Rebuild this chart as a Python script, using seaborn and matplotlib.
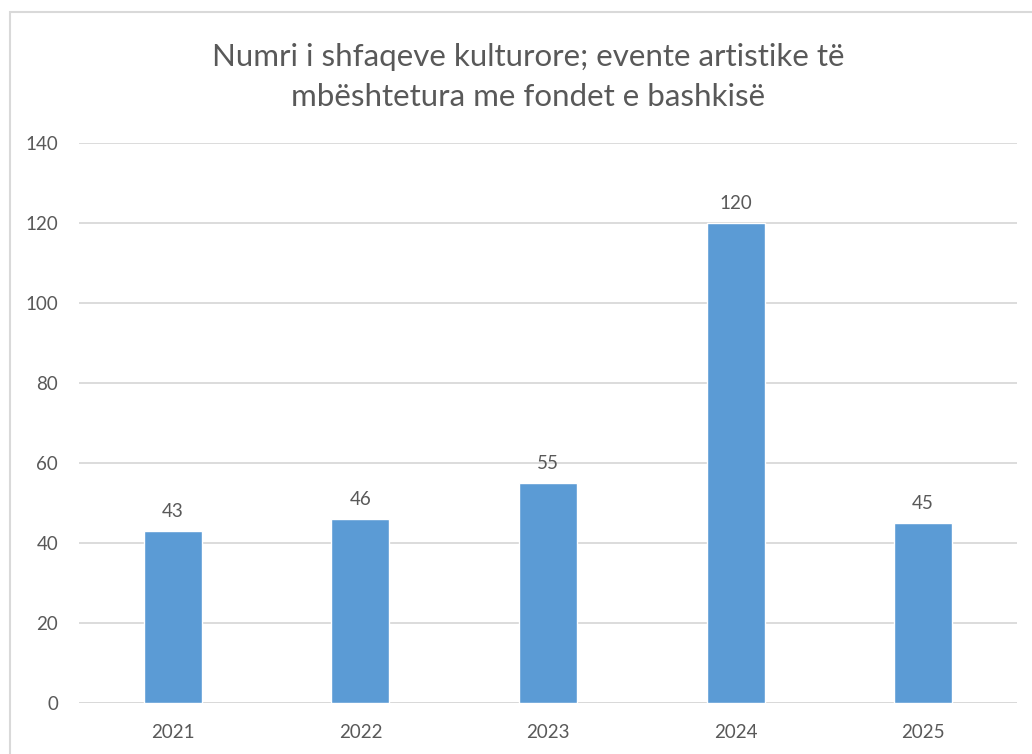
import matplotlib
matplotlib.use("Agg")
import matplotlib.pyplot as plt
import seaborn as sns
import pandas as pd
from matplotlib.patches import Rectangle

years = ["2021", "2022", "2023", "2024", "2025"]
values = [43, 46, 55, 120, 45]
yticks = [0, 20, 40, 60, 80, 100, 120, 140]
title = "Numri i shfaqeve kulturore; evente artistike të\nmbështetura me fondet e bashkisë"

sns.set_theme(style="white")
plt.rcParams['font.family'] = ['Lato', 'DejaVu Sans']

TXT = "#595959"
GRID = "#D9D9D9"
BAR = "#5B9BD5"

W, H = 1032, 754
fig = plt.figure(figsize=(W / 100, H / 100), dpi=100)
fig.patch.set_facecolor("white")

# chart frame (cropped at right and bottom)
fig.patches.append(Rectangle((10 / W, -0.1), 1.2, 1 - 12 / H + 0.1,
                             transform=fig.transFigure, fill=False,
                             edgecolor=GRID, linewidth=1.5))

left, right = 79 / W, 1017 / W
bottom, top = 1 - 703 / H, 1 - 143 / H
ax = fig.add_axes([left, bottom, right - left, top - bottom])

df = pd.DataFrame({"year": years, "value": values})
sns.barplot(data=df, x="year", y="value", color=BAR, saturation=1,
            width=0.31, ax=ax)

ax.set_ylim(0, 140)
ax.set_yticks(yticks)
ax.set_yticklabels([str(t) for t in yticks])
ax.set_xlim(-0.5, len(years) - 0.5)
ax.yaxis.grid(True, color=GRID, linewidth=1.3)
ax.set_axisbelow(True)
for s in ax.spines.values():
    s.set_visible(False)
ax.axhline(0, color=GRID, linewidth=1.3, zorder=0)
ax.set_xlabel("")
ax.set_ylabel("")
ax.tick_params(axis="both", length=0, labelsize=13.5, colors=TXT)
ax.tick_params(axis="y", pad=15)
ax.tick_params(axis="x", pad=15)

for i, v in enumerate(values):
    ax.annotate(str(v), (i, v), xytext=(0, 8), textcoords="offset points",
                ha="center", va="bottom", fontsize=13.5, color=TXT)

fig.text(528 / W, 1 - 77 / H, title, ha="center", va="center",
         fontsize=22.5, color=TXT, linespacing=1.5)

fig.savefig("out.png", dpi=100)
